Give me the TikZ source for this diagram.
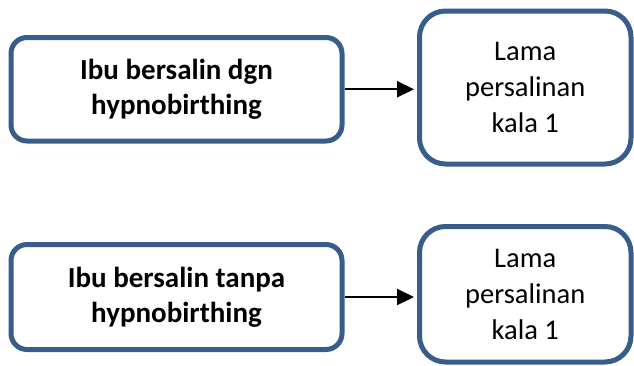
\documentclass[tikz,border=0pt]{standalone}
\usepackage{fontspec}
\setmainfont{Carlito}
\usetikzlibrary{arrows.meta}
\definecolor{boxblue}{HTML}{385D8A}
\tikzset{
	flowbox/.style={draw=boxblue, line width=5pt, rounded corners=16pt, inner sep=0pt, align=center, font=\fontsize{28.5}{36}\selectfont},
	boldtext/.style={font=\fontsize{29}{35}\selectfont\bfseries},
	flowarrow/.style={line width=2.2pt, -{Triangle[length=17pt,width=16pt]}, shorten >=3pt}
}

\begin{document}
\begin{tikzpicture}[x=1pt, y=-1pt]
			%%%%% START %%%%%
			\useasboundingbox (0, 0) rectangle (634, 365);
			
			% atas
			\node[flowbox, boldtext, minimum width=331pt, minimum height=103.5pt] (ibudgn) at (176.5, 89.25) {Ibu bersalin dgn\\hypnobirthing};
			\node[flowbox, rounded corners=26pt, minimum width=211.5pt, minimum height=153pt] (lamaA) at (525.25, 87.5) {Lama\\persalinan\\kala 1};
			\draw[flowarrow] (ibudgn.east) -- (ibudgn.east -| lamaA.west);
			
			% bawah
			\node[flowbox, boldtext, minimum width=331pt, minimum height=105pt] (ibutanpa) at (176.5, 297) {Ibu bersalin tanpa\\hypnobirthing};
			\node[flowbox, rounded corners=26pt, minimum width=211.5pt, minimum height=135.5pt] (lamaB) at (525.25, 294.25) {Lama\\persalinan\\kala 1};
			\draw[flowarrow] (ibutanpa.east) -- (ibutanpa.east -| lamaB.west);
			
			%%%%% END %%%%%
\end{tikzpicture}
\end{document}
